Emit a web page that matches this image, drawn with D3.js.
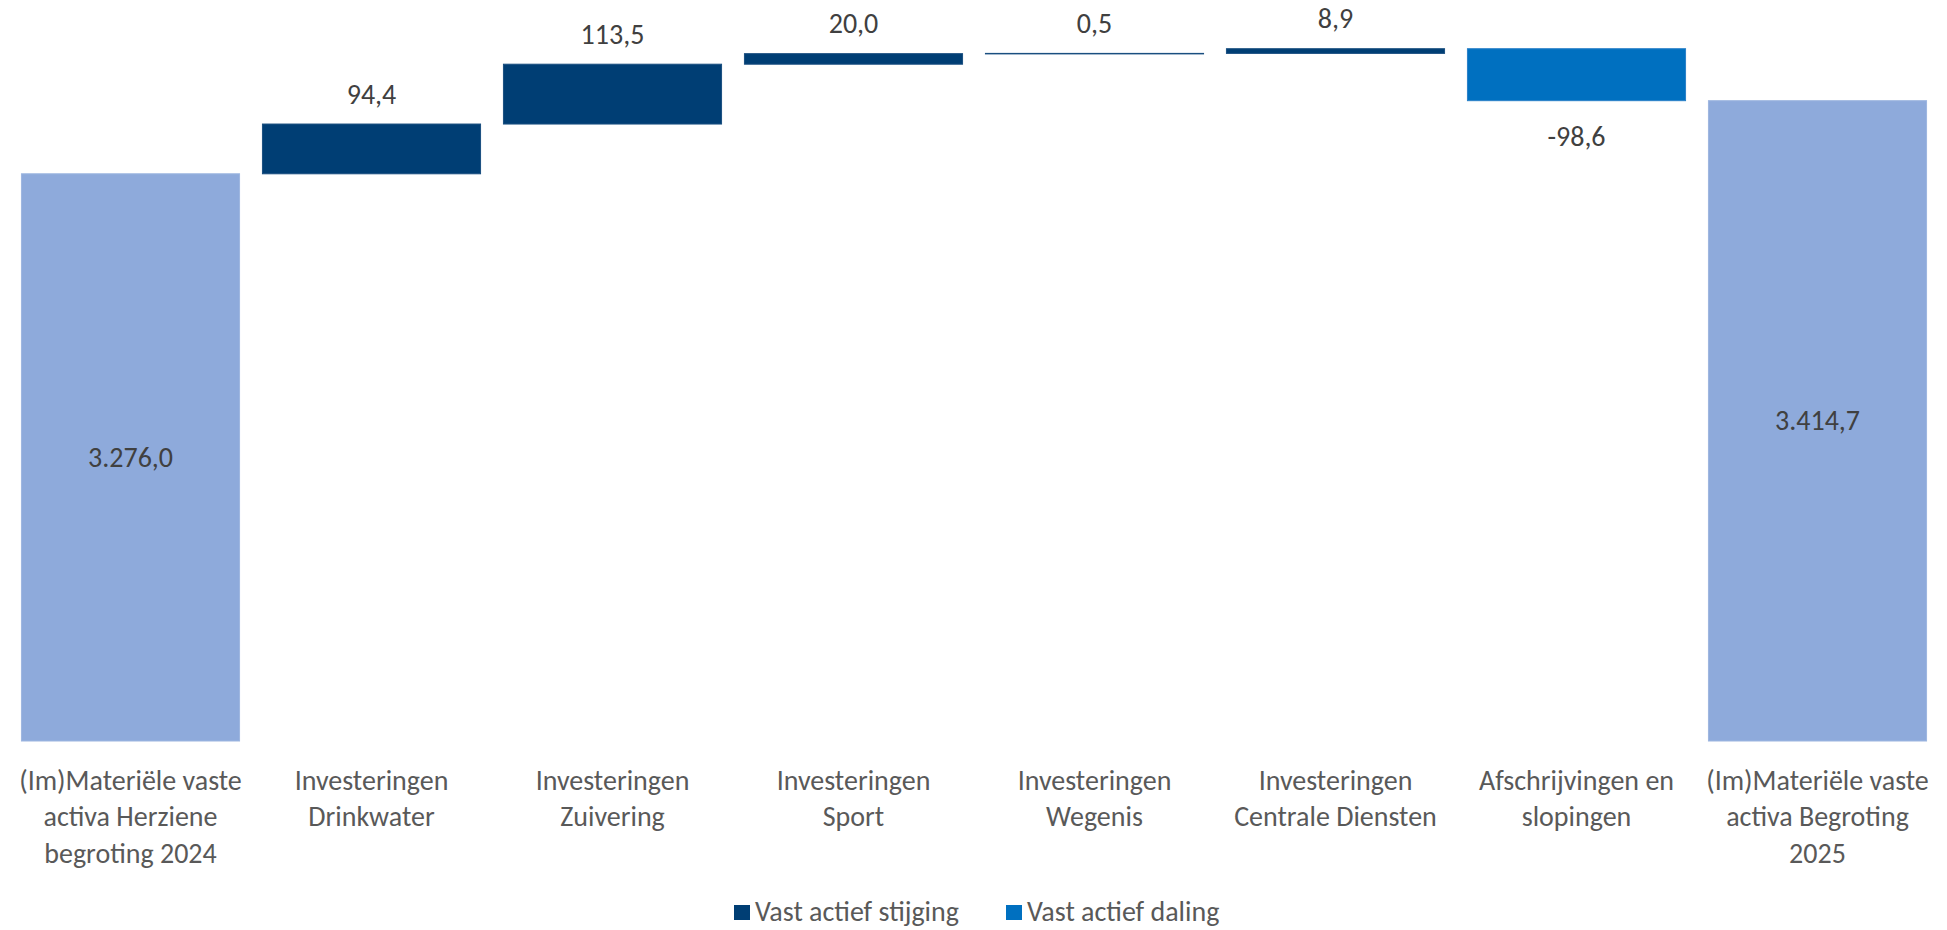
<!DOCTYPE html>
<html>
<head>
<meta charset="utf-8">
<script src="https://cdn.jsdelivr.net/npm/d3@7"></script>
<style>
  html, body { margin: 0; padding: 0; background: #fff; }
  svg { display: block; }
  text { font-family: Carlito, Calibri, Lato, "Open Sans", sans-serif; }
</style>
</head>
<body>
<svg id="chart" width="1947" height="930"></svg>
<script>
const categories = [
  "(Im)Materiële vaste\nactiva Herziene\nbegroting 2024",
  "Investeringen\nDrinkwater",
  "Investeringen\nZuivering",
  "Investeringen\nSport",
  "Investeringen\nWegenis",
  "Investeringen\nCentrale Diensten",
  "Afschrijvingen en\nslopingen",
  "(Im)Materiële vaste\nactiva Begroting\n2025"
];
const values = [3276.0, 94.4, 113.5, 20.0, 0.5, 8.9, -98.6, 3414.7];
const types = ["total", "increase", "increase", "increase", "increase", "increase", "decrease", "total"];
const valueLabels = ["3.276,0", "94,4", "113,5", "20,0", "0,5", "8,9", "-98,6", "3.414,7"];
const legendLabels = ["Vast actief stijging", "Vast actief daling"];
const yDomain = [2200, 3600];

const colors = { total: "#8EAADB", increase: "#003E74", decrease: "#0070C0" };
const strokes = { total: "#9DB6E0", increase: "#1A4F80", decrease: "#2A80C8" };

const svg = d3.select("#chart");
const x = d3.scaleBand().domain(categories).range([10, 1938]).paddingInner(0.095).paddingOuter(0.0475);
const y = d3.scaleLinear().domain(yDomain).range([741, 3]);

let running = 0;
const data = categories.map((c, i) => {
  let start, end;
  if (types[i] === "total") { start = yDomain[0]; end = values[i]; running = values[i]; }
  else { start = running; end = running + values[i]; running = end; }
  return { cat: c, value: values[i], type: types[i], start, end, label: valueLabels[i] };
});

svg.append("g").selectAll("rect").data(data).join("rect")
  .attr("x", d => x(d.cat))
  .attr("width", x.bandwidth())
  .attr("y", d => y(Math.max(d.start, d.end)))
  .attr("height", d => Math.max(0.5, Math.abs(y(d.start) - y(d.end))))
  .attr("fill", d => colors[d.type])
  .attr("stroke", d => strokes[d.type])
  .attr("stroke-width", 1);

svg.append("g").selectAll("text").data(data).join("text")
  .attr("x", d => x(d.cat) + x.bandwidth() / 2)
  .attr("y", d => {
    if (d.type === "total") return (y(d.start) + y(d.end)) / 2;
    if (d.type === "increase") return y(d.end) - 30;
    return y(d.end) + 36;
  })
  .attr("text-anchor", "middle")
  .attr("dominant-baseline", "central")
  .attr("fill", "#404040")
  .attr("font-size", 28)
  .text(d => d.label);

// x axis labels
const axisG = svg.append("g");
data.forEach(d => {
  const t = axisG.append("text")
    .attr("text-anchor", "middle")
    .attr("fill", "#595959")
    .attr("font-size", 28);
  d.cat.split("\n").forEach((l, i) => {
    t.append("tspan")
      .attr("x", x(d.cat) + x.bandwidth() / 2)
      .attr("y", 780 + i * 36.5)
      .attr("dominant-baseline", "central")
      .text(l);
  });
});

// legend
const leg = svg.append("g");
const legItems = [
  { label: legendLabels[0], color: colors.increase, x: 734 },
  { label: legendLabels[1], color: colors.decrease, x: 1006 }
];
legItems.forEach(it => {
  leg.append("rect").attr("x", it.x).attr("y", 905).attr("width", 16).attr("height", 15).attr("fill", it.color);
  leg.append("text").attr("x", it.x + 21).attr("y", 911)
    .attr("dominant-baseline", "central")
    .attr("fill", "#595959").attr("font-size", 28).text(it.label);
});
</script>
</body>
</html>
